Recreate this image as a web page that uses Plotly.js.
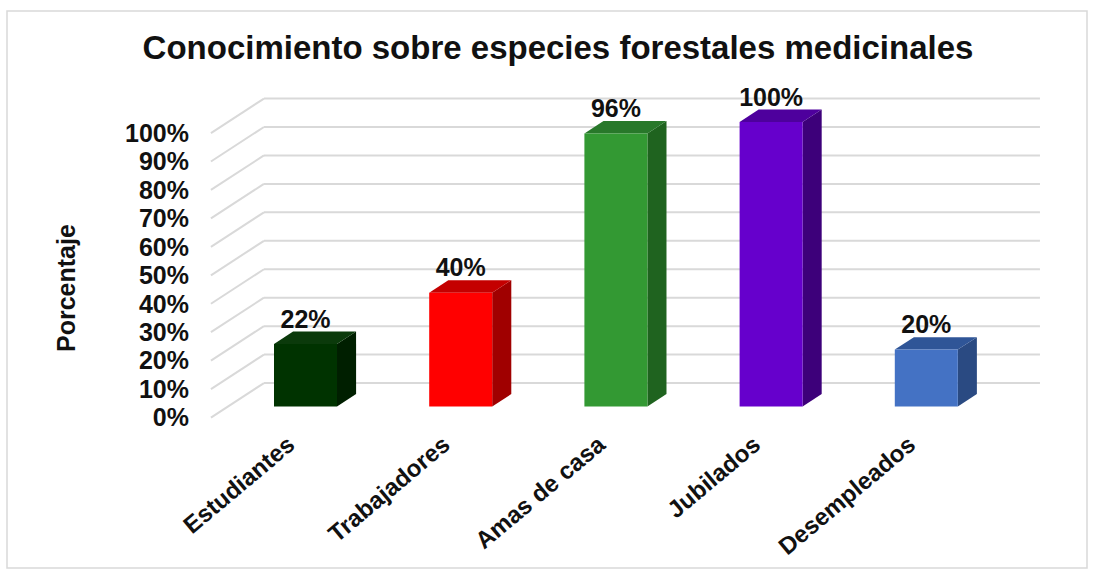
<!DOCTYPE html>
<html>
<head>
<meta charset="utf-8">
<script src="https://cdn.plot.ly/plotly-3.0.1.min.js"></script>
<style>
  html, body { margin: 0; padding: 0; background: #ffffff; }
  #chart { width: 1094px; height: 575px; }
</style>
</head>
<body>
<div id="chart"></div>
<script>
// ---------------- data ----------------
const categories = ['Estudiantes', 'Trabajadores', 'Amas de casa', 'Jubilados', 'Desempleados'];
const values = [22, 40, 96, 100, 20];
const dataLabels = ['22%', '40%', '96%', '100%', '20%'];
const yTicks = [0, 10, 20, 30, 40, 50, 60, 70, 80, 90, 100];
const yTickLabels = ['0%', '10%', '20%', '30%', '40%', '50%', '60%', '70%', '80%', '90%', '100%'];
const titleText = 'Conocimiento sobre especies forestales medicinales';
const yTitleText = 'Porcentaje';

// ---------------- styles ----------------
const frontColors = ['#003300', '#ff0000', '#339933', '#6600cc', '#4472c4'];
const sideColors  = ['#001f00', '#a00000', '#1f631f', '#3d007a', '#2a4a82'];
const topColors   = ['#0b3a0b', '#c40000', '#28782a', '#4e009d', '#2f5597'];
const gridColor = '#d9d9d9';
const textColor = '#111111';
const FONT = 'Liberation Sans, Arial, Helvetica, sans-serif';

// ---------------- geometry (pseudo 3D projection) ----------------
const W = 1094, H = 575;
const M = { l: 200, r: 44, t: 90, b: 150 };
const PW = W - M.l - M.r, PH = H - M.t - M.b;
const X_RANGE = [-0.6798, 4.797];
const Y_RANGE = [-6.5, 111.25];
const DX = 0.3415;   // full floor depth, category units
const DY = 12.13;    // full floor depth, value units
const F = 0.32;      // depth position of bar front faces
const G = 0.36;      // bar depth (fraction of floor depth)
const BAR_W = 0.406;
const LABEL_DY = 7.9;

function proj(c, v, d) { return [c + (d - F) * DX, v + (d - F) * DY]; }
function path(pts) { return 'M ' + pts.map(p => p[0] + ',' + p[1]).join(' L ') + ' Z'; }
function px2paperX(px) { return (px - M.l) / PW; }
function px2paperY(py) { return (H - M.b - py) / PH; }

const idx = categories.map((_, i) => i);
const shapes = [];

// walls gridlines (back wall + left side wall)
yTicks.forEach(v => {
  const a = proj(-0.5, v, 1), b = proj(categories.length - 0.5, v, 1), c = proj(-0.5, v, 0);
  shapes.push({ type: 'line', xref: 'x', yref: 'y', x0: a[0], y0: a[1], x1: b[0], y1: b[1],
                line: { color: gridColor, width: 2 }, layer: 'below' });
  shapes.push({ type: 'line', xref: 'x', yref: 'y', x0: c[0], y0: c[1], x1: a[0], y1: a[1],
                line: { color: gridColor, width: 2 }, layer: 'below' });
});

// bar side + top faces
idx.forEach(i => {
  const v = values[i];
  const L = i - BAR_W / 2, R = i + BAR_W / 2;
  const ftl = [L, v], ftr = [R, v], fbr = [R, 0];
  const btl = proj(L, v, F + G), btr = proj(R, v, F + G), bbr = proj(R, 0, F + G);
  shapes.push({ type: 'path', xref: 'x', yref: 'y', path: path([ftr, btr, bbr, fbr]),
                fillcolor: sideColors[i], line: { width: 0 }, layer: 'below' });
  shapes.push({ type: 'path', xref: 'x', yref: 'y', path: path([ftl, ftr, btr, btl]),
                fillcolor: topColors[i], line: { width: 0 }, layer: 'below' });
});

// outer frame
shapes.push({ type: 'rect', xref: 'paper', yref: 'paper',
              x0: px2paperX(7), x1: px2paperX(1087), y0: px2paperY(568), y1: px2paperY(11),
              line: { color: '#d9d9d9', width: 1.5 }, layer: 'below' });

const traces = [
  { type: 'bar', x: idx, y: values, width: BAR_W,
    marker: { color: frontColors, line: { width: 0 } }, hoverinfo: 'skip', showlegend: false },
  { type: 'scatter', mode: 'text', x: idx, y: values.map(v => v + LABEL_DY), text: dataLabels,
    textposition: 'middle center', cliponaxis: false,
    textfont: { family: FONT, size: 25, color: textColor, weight: 'bold' },
    hoverinfo: 'skip', showlegend: false }
];

const layout = {
  width: W, height: H,
  margin: M,
  paper_bgcolor: '#ffffff', plot_bgcolor: 'rgba(0,0,0,0)',
  showlegend: false,
  font: { family: FONT, color: textColor },
  title: { text: titleText, x: 558 / W, xref: 'container', xanchor: 'center',
           y: 1 - 47 / H, yref: 'container', yanchor: 'middle',
           font: { family: FONT, size: 33, color: textColor, weight: 'bold' } },
  xaxis: { range: X_RANGE, tickvals: idx.map(i => proj(i, 0, 0)[0]), ticktext: categories,
           tickangle: -40, tickfont: { family: FONT, size: 24, color: textColor, weight: 'bold' },
           showgrid: false, zeroline: false, showline: false, ticks: '', fixedrange: true },
  yaxis: { range: Y_RANGE, tickvals: yTicks.map(v => proj(0, v, 0)[1]), ticktext: yTickLabels,
           tickfont: { family: FONT, size: 25, color: textColor, weight: 'bold' },
           ticklabelstandoff: 10,
           showgrid: false, zeroline: false, showline: false, ticks: '', fixedrange: true },
  annotations: [
    { text: yTitleText, textangle: -90, xref: 'paper', yref: 'paper',
      x: px2paperX(66), y: px2paperY(288), xanchor: 'center', yanchor: 'middle', showarrow: false,
      font: { family: FONT, size: 25, color: textColor, weight: 'bold' } }
  ],
  shapes: shapes
};

Plotly.newPlot('chart', traces, layout, { displayModeBar: false, staticPlot: true });
</script>
</body>
</html>
